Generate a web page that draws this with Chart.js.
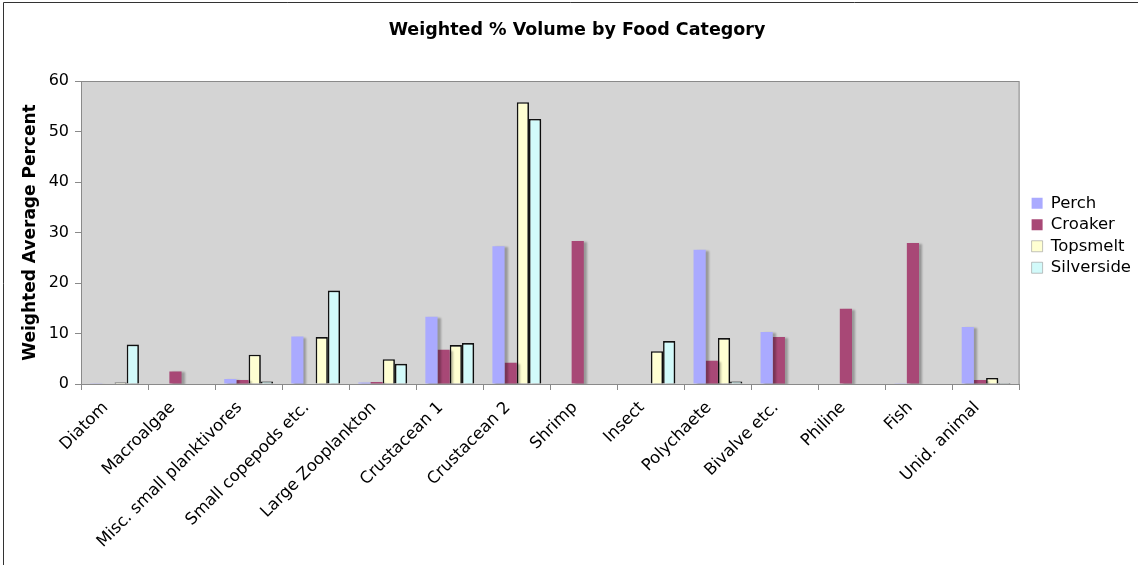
<!DOCTYPE html>
<html lang="en">
<head>
  <meta charset="UTF-8" />
  <title>Weighted % Volume by Food Category</title>
  <script src="https://cdn.jsdelivr.net/npm/chart.js"></script>
  <style>
    html, body { margin: 0; background: #fff; }
    #wrap { width: 1138px; height: 565px; position: relative; }
  </style>
</head>
<body>
<div id="wrap"><canvas id="dietChart"></canvas></div>
<script>
  const categories = ['Diatom', 'Macroalgae', 'Misc. small planktivores', 'Small copepods etc.',
    'Large Zooplankton', 'Crustacean 1', 'Crustacean 2', 'Shrimp', 'Insect', 'Polychaete',
    'Bivalve etc.', 'Philine', 'Fish', 'Unid. animal'];
  const perch      = [0.05, 0, 1.0, 9.4, 0.3, 13.3, 27.3, 0, 0, 26.6, 10.3, 0, 0.05, 11.3];
  const croaker    = [0, 2.5, 0.8, 0, 0.4, 6.8, 4.2, 28.3, 0, 4.6, 9.3, 14.9, 27.9, 0.8];
  const topsmelt   = [0.3, 0, 5.8, 9.3, 4.9, 7.7, 55.8, 0, 6.5, 9.1, 0.1, 0, 0.1, 1.2];
  const silverside = [7.8, 0, 0.5, 18.5, 4.0, 8.1, 52.5, 0, 8.5, 0.5, 0, 0, 0, 0.2];
  const yTicks = [0, 10, 20, 30, 40, 50, 60];

  const FONT = "'DejaVu Sans', Verdana, sans-serif";

  // grey plot area, outer frame
  const frame = {
    id: 'frame',
    afterLayout(chart) {
      // nudge the legend a little away from the plot
      chart.legend.left += 7;
      chart.legend.right += 7;
      chart.legend.top += 3;
      chart.legend.bottom += 3;
    },
    beforeDraw(chart) {
      const { ctx, chartArea: a } = chart;
      ctx.save();
      ctx.fillStyle = '#d4d4d4';
      ctx.fillRect(a.left, a.top, a.right - a.left, a.bottom - a.top);
      ctx.strokeStyle = '#8a8a8a';
      ctx.lineWidth = 1;
      ctx.strokeRect(a.left + 0.5, a.top + 0.5, a.right - a.left - 1, a.bottom - a.top);
      ctx.strokeStyle = '#333';
      ctx.beginPath();
      ctx.moveTo(3.5, chart.height);
      ctx.lineTo(3.5, 2.5);
      ctx.lineTo(chart.width, 2.5);
      ctx.stroke();
      ctx.restore();
    },
    // soft drop shadow behind the bars
    beforeDatasetDraw(chart) {
      const ctx = chart.ctx;
      ctx.save();
      ctx.shadowColor = 'rgba(0,0,0,0.28)';
      ctx.shadowBlur = 2;
      ctx.shadowOffsetX = 3;
      ctx.shadowOffsetY = 1;
    },
    afterDatasetDraw(chart) {
      chart.ctx.restore();
    }
  };

  const series = [
    { label: 'Perch', data: perch, backgroundColor: '#aaaaff', borderWidth: 0 },
    { label: 'Croaker', data: croaker, backgroundColor: '#a84876', borderWidth: 0 },
    { label: 'Topsmelt', data: topsmelt, backgroundColor: '#ffffd2', borderColor: '#111', borderWidth: 1.6 },
    { label: 'Silverside', data: silverside, backgroundColor: '#d2fafa', borderColor: '#111', borderWidth: 1.6 }
  ];

  new Chart(document.getElementById('dietChart'), {
    type: 'bar',
    data: {
      labels: categories,
      datasets: series.map(s => ({ ...s, categoryPercentage: 4 / 5.5, barPercentage: 1 }))
    },
    plugins: [frame],
    options: {
      responsive: true,
      maintainAspectRatio: false,
      animation: false,
      layout: { padding: { top: 0, right: 4, bottom: 0, left: 20 } },
      plugins: {
        title: {
          display: true,
          text: 'Weighted % Volume by Food Category',
          color: '#000',
          font: { family: FONT, size: 17.5, weight: 'bold' },
          padding: { top: 20, bottom: 40 }
        },
        legend: {
          position: 'right',
          align: 'center',
          fullSize: false,
          labels: {
            color: '#000',
            font: { family: FONT, size: 16.5 },
            boxWidth: 11,
            boxHeight: 11,
            padding: 5,
            generateLabels(chart) {
              return chart.data.datasets.map((d, i) => ({
                text: d.label,
                fillStyle: d.backgroundColor,
                strokeStyle: i < 2 ? d.backgroundColor : '#999',
                lineWidth: i < 2 ? 0 : 0.6,
                datasetIndex: i,
                fontColor: '#000'
              }));
            }
          },
          afterFit(l) { l.width = 115; }
        },
        tooltip: { enabled: false }
      },
      scales: {
        x: {
          grid: { display: true, drawOnChartArea: false, drawTicks: true, tickLength: 6, color: '#8a8a8a', offset: true },
          border: { display: true, color: '#8a8a8a' },
          ticks: {
            color: '#000',
            font: { family: FONT, size: 16.5 },
            minRotation: 45,
            maxRotation: 45,
            labelOffset: -9,
            padding: 8
          },
          afterFit(s) { s.height = 181; }
        },
        y: {
          min: 0,
          max: 60,
          afterBuildTicks(s) { s.ticks = yTicks.map(v => ({ value: v })); },
          grid: { display: true, drawOnChartArea: false, drawTicks: true, tickLength: 6, color: '#8a8a8a' },
          border: { display: true, color: '#8a8a8a' },
          ticks: { color: '#000', font: { family: FONT, size: 16 }, padding: 6 },
          title: {
            display: true,
            text: 'Weighted Average Percent',
            color: '#000',
            font: { family: FONT, size: 17, weight: 'bold' },
            padding: { top: 0, bottom: 4 }
          },
          afterFit(s) { s.width = 61; }
        }
      }
    }
  });
</script>
</body>
</html>
